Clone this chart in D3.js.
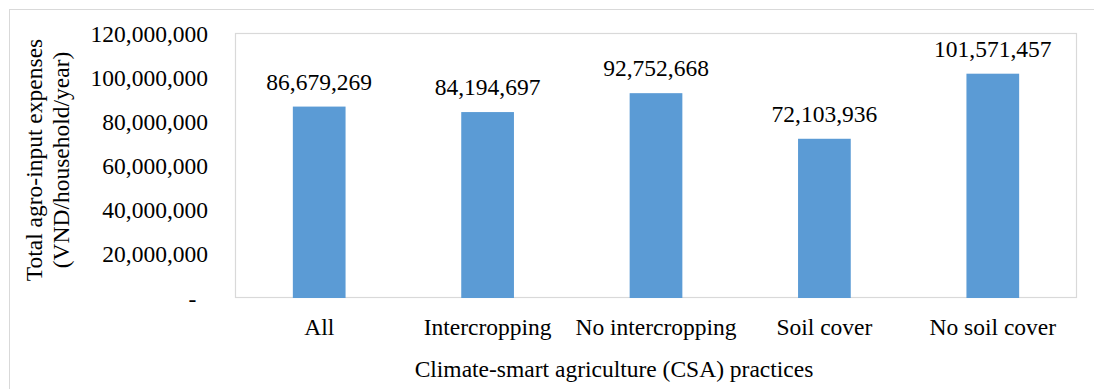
<!DOCTYPE html>
<html>
<head>
<meta charset="utf-8">
<script src="https://cdn.jsdelivr.net/npm/d3@7"></script>
<style>
  html, body { margin: 0; padding: 0; background: #fff; }
  svg { display: block; }
  text { font-family: "Liberation Serif", "Times New Roman", serif; fill: #000; }
</style>
</head>
<body>
<svg id="chart" width="1094" height="389"></svg>
<script>
// Total agro-input expenses by CSA practice
const categories = ["All", "Intercropping", "No intercropping", "Soil cover", "No soil cover"];
const expenses = [86679269, 84194697, 92752668, 72103936, 101571457];
const yTicks = [0, 20000000, 40000000, 60000000, 80000000, 100000000, 120000000];
const yTitleLines = ["Total agro-input expenses", "(VND/household/year)"];
const xTitle = "Climate-smart agriculture (CSA) practices";

const svg = d3.select("#chart");
const W = 1094, H = 389;
const plot = { left: 235, top: 33, right: 1077, bottom: 298 };
const fontSize = 23.5;
const fmt = d3.format(",");

// outer chart frame (extends past the right and bottom edges)
svg.append("rect")
  .attr("x", 9.5).attr("y", 9.5)
  .attr("width", W + 20).attr("height", H + 20)
  .attr("fill", "#fff").attr("stroke", "#d9d9d9").attr("stroke-width", 1);

const x = d3.scaleBand().domain(categories).range([plot.left, plot.right]).paddingInner(0.687).paddingOuter(0.3435);
const y = d3.scaleLinear().domain([0, 120000000]).range([plot.bottom, plot.top]);

// plot area border
svg.append("rect")
  .attr("x", plot.left + 0.5).attr("y", plot.top + 0.5)
  .attr("width", plot.right - plot.left - 1).attr("height", plot.bottom - plot.top - 1)
  .attr("fill", "none").attr("stroke", "#d9d9d9").attr("stroke-width", 1.2);

// bars
svg.append("g").selectAll("rect")
  .data(categories.map((c, i) => ({ c, v: expenses[i] })))
  .join("rect")
  .attr("x", d => x(d.c))
  .attr("y", d => y(d.v))
  .attr("width", x.bandwidth())
  .attr("height", d => y(0) - y(d.v))
  .attr("fill", "#5b9bd5");

// value labels
svg.append("g").selectAll("text")
  .data(categories.map((c, i) => ({ c, v: expenses[i] })))
  .join("text")
  .attr("x", d => x(d.c) + x.bandwidth() / 2)
  .attr("y", d => y(d.v) - 17)
  .attr("text-anchor", "middle")
  .attr("font-size", fontSize)
  .text(d => fmt(d.v));

// y axis (labels only)
const yAxis = d3.axisLeft(y)
  .tickValues(yTicks)
  .tickSize(0)
  .tickPadding(27)
  .tickFormat(d => d === 0 ? "-\u00a0\u00a0" : fmt(d));
const gy = svg.append("g").attr("transform", `translate(${plot.left},0)`).call(yAxis);
gy.select(".domain").remove();
gy.selectAll("text")
  .attr("font-family", "Liberation Serif, Times New Roman, serif")
  .attr("font-size", fontSize)
  .attr("fill", "#000")
  .attr("dy", "0.34em");

// x axis (labels only)
const xAxis = d3.axisBottom(x).tickSize(0).tickPadding(0);
const gx = svg.append("g").attr("transform", `translate(0,${plot.bottom})`).call(xAxis);
gx.select(".domain").remove();
gx.selectAll("text")
  .attr("font-family", "Liberation Serif, Times New Roman, serif")
  .attr("font-size", fontSize)
  .attr("fill", "#000")
  .attr("dy", null)
  .attr("y", 37);

// y axis title (two lines, rotated)
const yt = svg.append("text")
  .attr("transform", "translate(0,160) rotate(-90)")
  .attr("text-anchor", "middle")
  .attr("font-size", fontSize);
yt.selectAll("tspan").data(yTitleLines).join("tspan")
  .attr("x", 0)
  .attr("y", (d, i) => 42 + i * 27)
  .text(d => d);

// x axis title
svg.append("text")
  .attr("x", 614).attr("y", 377)
  .attr("text-anchor", "middle")
  .attr("font-size", fontSize)
  .text(xTitle);
</script>
</body>
</html>
